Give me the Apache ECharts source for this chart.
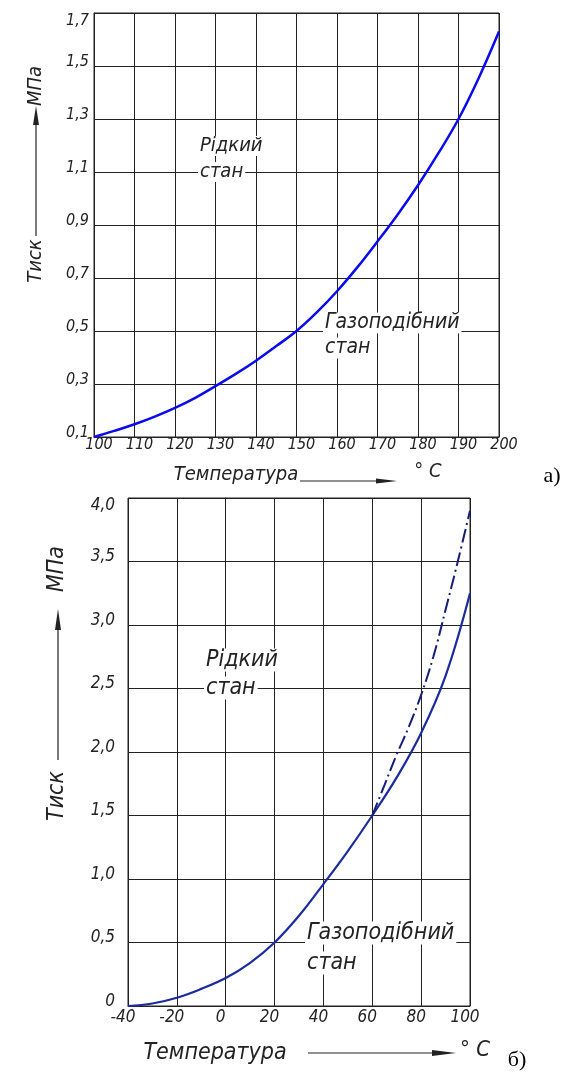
<!DOCTYPE html>
<html><head><meta charset="utf-8">
<script src="https://cdn.jsdelivr.net/npm/echarts@6/dist/echarts.min.js"></script>
<style>html,body{margin:0;padding:0;background:#fff}#c{width:573px;height:1073px}</style>
</head><body><div id="c"></div>
<script>
// ---- Chart a) ----
const tempsA = [100,105,110,115,120,125,130,135,140,145,150,155,160,165,170,175,180,185,190,195,200];
const pressureA = [0.1,0.123,0.148,0.177,0.21,0.248,0.292,0.338,0.388,0.443,0.5,0.57,0.65,0.74,0.838,0.94,1.05,1.17,1.3,1.455,1.63];
const xLabelsA = ['100','110','120','130','140','150','160','170','180','190','200'];
const yLabelsA = ['0,1','0,3','0,5','0,7','0,9','1,1','1,3','1,5','1,7'];
// ---- Chart б) ----
const tempsB = [-40,-30,-20,-10,0,10,20,30,40,50,60,70,80,90,100];
const solidB = [0,0.02,0.065,0.135,0.22,0.34,0.5,0.71,0.96,1.22,1.5,1.8,2.15,2.6,3.25];
const tempsDash = [60,65,70,75,80,85,90,95,100];
const dashB = [1.5,1.74,1.98,2.2,2.45,2.75,3.12,3.5,3.9];
const xLabelsB = ['-40','-20','0','20','40','60','80','100'];
const yLabelsB = ['0','0,5','1,0','1,5','2,0','2,5','3,0','3,5','4,0'];

const F = "'Liberation Sans Narrow','DejaVu Sans Condensed','Arial Narrow',sans-serif";
const INK = '#222';
const pairs = (xs, ys) => xs.map((x, i) => [x, ys[i]]);

const chart = echarts.init(document.getElementById('c'), null, {renderer: 'canvas'});

function txt(x, y, text, size, opts) {
  return Object.assign({
    type: 'text', x: x, y: y, z: 100,
    style: {text: text, fill: INK, font: 'italic ' + size + 'px ' + F, align: 'center', verticalAlign: 'middle'}
  }, opts && opts.rotation !== undefined ? {rotation: opts.rotation} : {});
}
function line(x1, y1, x2, y2) {
  return {type: 'line', z: 100, shape: {x1, y1, x2, y2}, style: {stroke: INK, lineWidth: 1.2}};
}
function poly(points) {
  return {type: 'polygon', z: 100, shape: {points}, style: {fill: INK}};
}
function note(x, y, text, size) {
  return {type: 'text', x: x, y: y, z: 100,
    style: {text: text, fill: INK, font: 'italic ' + size + 'px ' + F, align: 'left', verticalAlign: 'middle',
      backgroundColor: '#fff', padding: [0, 2, 0, 2]}};
}
function yRich(size) {
  const base = {color: INK, fontStyle: 'italic', fontFamily: F, fontSize: size};
  return {
    n: Object.assign({padding: [0, 0, 9, 0]}, base),
    t: Object.assign({padding: [16, 0, 0, 0]}, base)
  };
}
function yFmt(labels) {
  return (v, i) => (i === labels.length - 1 ? '{t|' : '{n|') + labels[i] + '}';
}

const axisLabelBase = {color: INK, fontStyle: 'italic', fontFamily: F};

chart.setOption({
  animation: false,
  backgroundColor: '#fff',
  grid: [
    {left: 94, top: 13, width: 405, height: 424, show: true, borderColor: INK, borderWidth: 1},
    {left: 128, top: 498, width: 342, height: 508, show: true, borderColor: INK, borderWidth: 1}
  ],
  xAxis: [
    {gridIndex: 0, type: 'value', min: 100, max: 200, interval: 10,
      axisLine: {show: true, lineStyle: {color: INK}}, axisTick: {show: false},
      splitLine: {show: true, lineStyle: {color: INK, width: 1}},
      axisLabel: Object.assign({}, axisLabelBase, {fontSize: 16, margin: 0, padding: [0, 0, 0, 10], formatter: (v, i) => xLabelsA[i]})},
    {gridIndex: 1, type: 'value', min: -40, max: 100, interval: 20,
      axisLine: {show: true, lineStyle: {color: INK}}, axisTick: {show: false},
      splitLine: {show: true, lineStyle: {color: INK, width: 1}},
      axisLabel: Object.assign({}, axisLabelBase, {fontSize: 17, margin: 3, padding: [0, 10, 0, 0], formatter: (v, i) => xLabelsB[i]})}
  ],
  yAxis: [
    {gridIndex: 0, type: 'value', min: 0.1, max: 1.7, interval: 0.2,
      axisLine: {show: true, lineStyle: {color: INK}}, axisTick: {show: false},
      splitLine: {show: true, lineStyle: {color: INK, width: 1}},
      axisLabel: Object.assign({}, axisLabelBase, {fontSize: 16, margin: 5, formatter: yFmt(yLabelsA), rich: yRich(16)})},
    {gridIndex: 1, type: 'value', min: 0, max: 4, interval: 0.5,
      axisLine: {show: true, lineStyle: {color: INK}}, axisTick: {show: false},
      splitLine: {show: true, lineStyle: {color: INK, width: 1}},
      axisLabel: Object.assign({}, axisLabelBase, {fontSize: 17, margin: 13, formatter: yFmt(yLabelsB), rich: yRich(17)})}
  ],
  series: [
    {type: 'line', xAxisIndex: 0, yAxisIndex: 0, data: pairs(tempsA, pressureA), smooth: 0.4,
      showSymbol: false, lineStyle: {color: '#0a0aee', width: 2.5}},
    {type: 'line', xAxisIndex: 1, yAxisIndex: 1, data: pairs(tempsB, solidB), smooth: 0.4,
      showSymbol: false, lineStyle: {color: '#1b2b9e', width: 2.2}},
    {type: 'line', xAxisIndex: 1, yAxisIndex: 1, data: pairs(tempsDash, dashB), smooth: 0.4,
      showSymbol: false, lineStyle: {color: '#141d78', width: 2, type: [14, 4, 2, 4]}}
  ],
  graphic: [
    // chart a) annotations
    note(198, 146, 'Рідкий', 20),
    note(198, 172, 'стан', 20),
    note(323, 323, 'Газоподібний', 21),
    note(323, 348, 'стан', 21),
    // chart a) axis titles
    txt(36, 261, 'Тиск', 20, {rotation: Math.PI / 2}),
    line(36, 236, 36, 122),
    poly([[36, 106], [33, 125], [39, 125]]),
    txt(36, 86, 'МПа', 20, {rotation: Math.PI / 2}),
    txt(236, 475, 'Температура', 20),
    line(300, 481, 382, 481),
    poly([[397, 481], [376, 478.5], [376, 483.5]]),
    txt(428, 472, '° С', 20),
    {type: 'text', x: 552, y: 476, z: 100, style: {text: 'а)', fill: '#000', font: '22px "Liberation Serif", serif', align: 'center', verticalAlign: 'middle'}},
    // chart б) annotations
    note(204, 660, 'Рідкий', 23),
    note(204, 688, 'стан', 23),
    note(305, 933, 'Газоподібний', 23),
    note(305, 963, 'стан', 23),
    // chart б) axis titles
    txt(57, 796, 'Тиск', 23, {rotation: Math.PI / 2}),
    line(58, 760, 58, 626),
    poly([[58, 609], [55, 630], [61, 630]]),
    txt(57, 569, 'МПа', 23, {rotation: Math.PI / 2}),
    txt(215, 1053, 'Температура', 23),
    line(308, 1053, 440, 1053),
    poly([[456, 1053], [432, 1050], [432, 1056]]),
    txt(475, 1050, '° С', 22),
    {type: 'text', x: 517, y: 1060, z: 100, style: {text: 'б)', fill: '#000', font: '22px "Liberation Serif", serif', align: 'center', verticalAlign: 'middle'}}
  ]
});
</script></body></html>
